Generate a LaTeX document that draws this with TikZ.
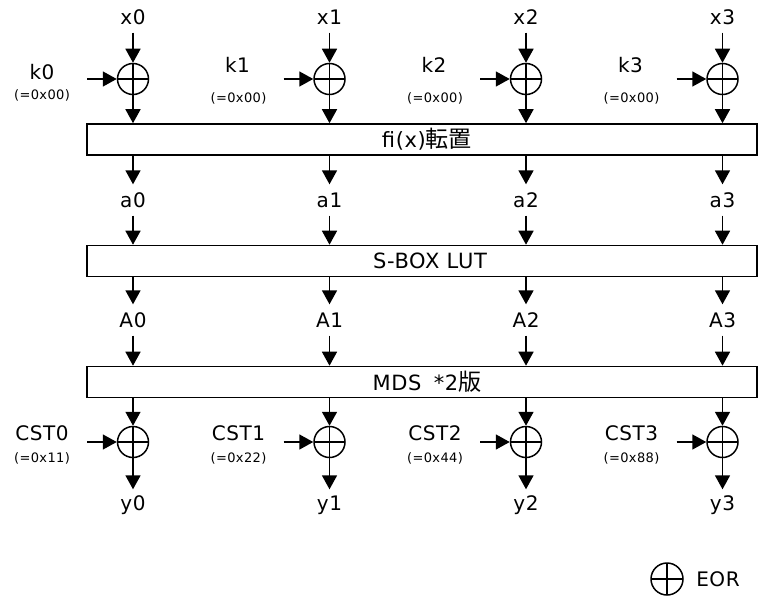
\documentclass[tikz,border=0pt]{standalone}
\usepackage{fontspec}
\setmainfont{DejaVu Sans}[LetterSpace=3]
\newfontfamily\jp{Noto Sans CJK JP}[Scale=1.1]
\usetikzlibrary{arrows.meta}
\begin{document}
\begin{tikzpicture}[x=1pt,y=-1pt,
  arr/.style={-{Triangle[length=14pt,width=15pt]}, line width=1.6pt},
  xorgate/.style={circle, draw, line width=1.5pt, minimum size=31pt, inner sep=0pt,
    path picture={\draw[line width=1.5pt] (path picture bounding box.north) -- (path picture bounding box.south)
      (path picture bounding box.west) -- (path picture bounding box.east);}},
  lbl/.style={font=\fontsize{20}{22}\selectfont, inner sep=0pt, minimum height=31pt},
  sml/.style={font=\fontsize{13}{15}\selectfont, inner sep=0pt},
  blk/.style={draw, line width=1.6pt, minimum width=670pt, minimum height=31pt, inner sep=0pt,
    font=\fontsize{21}{23}\selectfont}
]
\useasboundingbox (0,0) rectangle (759,596);
% blocks
\node[blk] (f) at (422,139.5) {\hspace*{10pt}fi(x){\jp 転置}};
\node[blk] (sb) at (422,261) {\hspace*{16pt}S-BOX LUT};
\node[blk] (m) at (422,382) {\hspace*{10pt}MDS\hspace{5pt} *2{\jp 版}};
% key labels
\node[lbl] (k0) at (42,72) {k0};
\node[sml] (k0v) at (42,95) {(=0x00)};
\node[lbl] (k1) at (237.5,65) {k1};
\node[sml] (k1v) at (238.5,98) {(=0x00)};
\node[lbl] (k2) at (434,65) {k2};
\node[sml] (k2v) at (435,98) {(=0x00)};
\node[lbl] (k3) at (630.5,65) {k3};
\node[sml] (k3v) at (631.5,98) {(=0x00)};
% constants
\node[lbl] (c0) at (42,433) {CST0};
\node[sml] (c0v) at (42,458) {(=0x11)};
\node[lbl] (c1) at (238.5,433) {CST1};
\node[sml] (c1v) at (238.5,458) {(=0x22)};
\node[lbl] (c2) at (435,433) {CST2};
\node[sml] (c2v) at (435,458) {(=0x44)};
\node[lbl] (c3) at (631.5,433) {CST3};
\node[sml] (c3v) at (631.5,458) {(=0x88)};
\foreach \i/\cx in {0/133,1/329.5,2/526,3/722.5}{
  \node[lbl] (x\i) at (\cx,17) {x\i};
  \node[xorgate] (s\i) at (\cx,79) {};
  \coordinate (kin\i) at (\cx-46,79);
  \draw[arr] (x\i) -- (s\i);
  \draw[arr] (kin\i) -- (s\i);
  \draw[arr] (s\i) -- (s\i |- f.north);
  \node[lbl] (a\i) at (\cx,200) {a\i};
  \draw[arr] (f.south -| a\i) -- (a\i);
  \draw[arr] (a\i) -- (a\i |- sb.north);
  \node[lbl] (A\i) at (\cx,320) {A\i};
  \draw[arr] (sb.south -| A\i) -- (A\i);
  \draw[arr] (A\i) -- (A\i |- m.north);
  \node[xorgate] (t\i) at (\cx,442) {};
  \coordinate (cin\i) at (\cx-46,442);
  \draw[arr] (m.south -| t\i) -- (t\i);
  \draw[arr] (cin\i) -- (t\i);
  \node[lbl] (y\i) at (\cx,505) {y\i};
  \draw[arr] (t\i) -- (y\i);
}
% legend
\node[xorgate, minimum size=32pt] (leg) at (667,579) {};
\node[lbl] (legt) at (718,579) {EOR};
\end{tikzpicture}
\end{document}
